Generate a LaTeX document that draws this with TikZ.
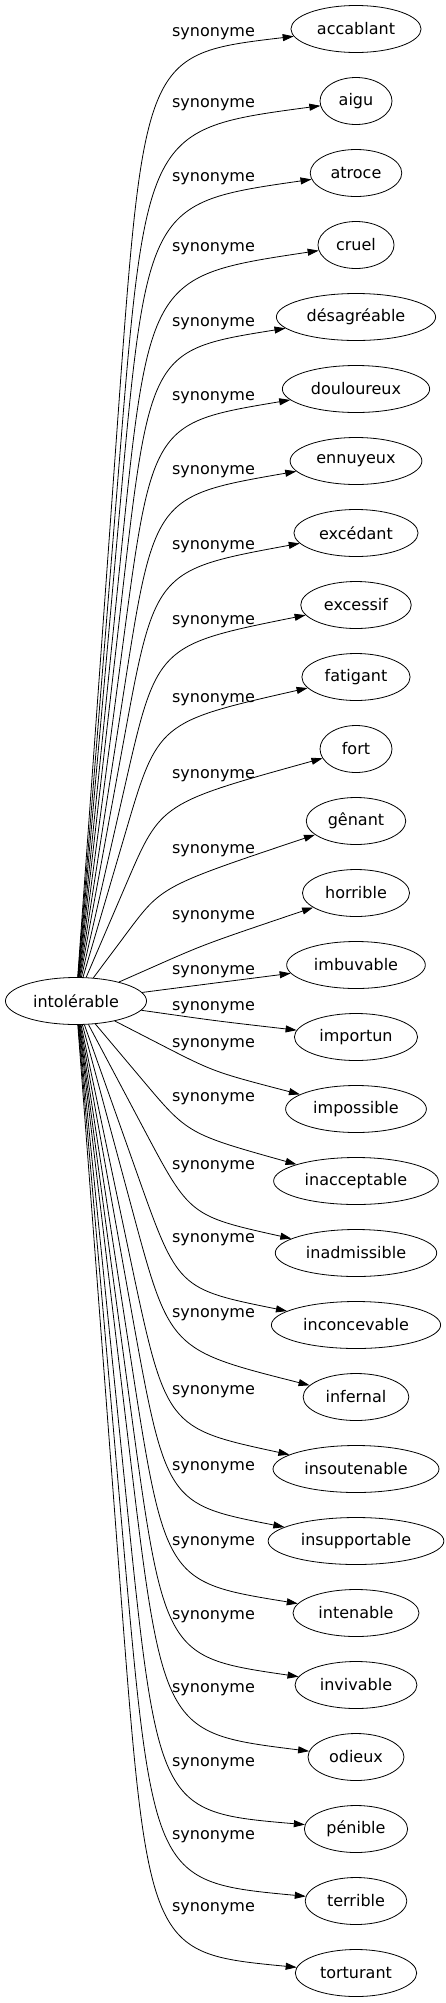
\documentclass[tikz,border=0pt]{standalone}
\usepackage{fontspec}
\setmainfont{DejaVu Sans}
\usetikzlibrary{arrows.meta,shapes.geometric,calc}

\tikzset{
  word/.style={draw, ellipse, line width=0.8pt, inner xsep=7pt, inner ysep=2pt,
    minimum width=72pt, minimum height=47pt, font=\fontsize{16}{19}\selectfont},
  syn/.style={font=\fontsize{16}{19}\selectfont},
  link/.style={-{Triangle[length=11pt,width=7pt]}, line width=0.8pt}
}

\begin{document}
\begin{tikzpicture}[x=1pt,y=-1pt]

\useasboundingbox (0,0) rectangle (446,2003);

\node[word] (intolerable) at (76,1001) {intolérable};

\foreach \n/\t/\kx/\ky/\ly [count=\i] in {
    accablant/accablant/144/54/34,
    aigu/aigu/146/129/105,
    atroce/atroce/147/203/179,
    cruel/cruel/149/276/249,
    desagreable/désagréable/150/350/324,
    douloureux/douloureux/152/423/398,
    ennuyeux/ennuyeux/154/496/472,
    excedant/excédant/155/570/547,
    excessif/excessif/157/645/622,
    fatigant/fatigant/158/722/700,
    fort/fort/161/803/776,
    genant/gênant/162/886/851,
    horrible/horrible/205/944/917,
    imbuvable/imbuvable/215/983/972,
    importun/importun/217/1021/1008,
    impossible/impossible/214/1072/1045,
    inacceptable/inacceptable/188/1134/1099,
    inadmissible/inadmissible/190/1216/1167,
    inconcevable/inconcevable/178/1289/1240,
    infernal/infernal/170/1350/1315,
    insoutenable/insoutenable/166/1428/1392,
    insupportable/insupportable/166/1504/1468,
    intenable/intenable/165/1582/1543,
    invivable/invivable/164/1657/1617,
    odieux/odieux/163/1733/1690,
    penible/pénible/158/1812/1764,
    terrible/terrible/153/1882/1837,
    torturant/torturant/148/1953/1909}
{
    \node[word] (\n) at (356,{29+72*(\i-1)}) {\t};
    \coordinate (k\n) at (\kx,\ky);
    \draw[link] (intolerable) -- ($(intolerable)!0.6!(k\n)$) .. controls (k\n) and (k\n) .. (\n);
    \node[syn] (l\n) at (213.5,\ly) {synonyme};
}

\end{tikzpicture}
\end{document}
